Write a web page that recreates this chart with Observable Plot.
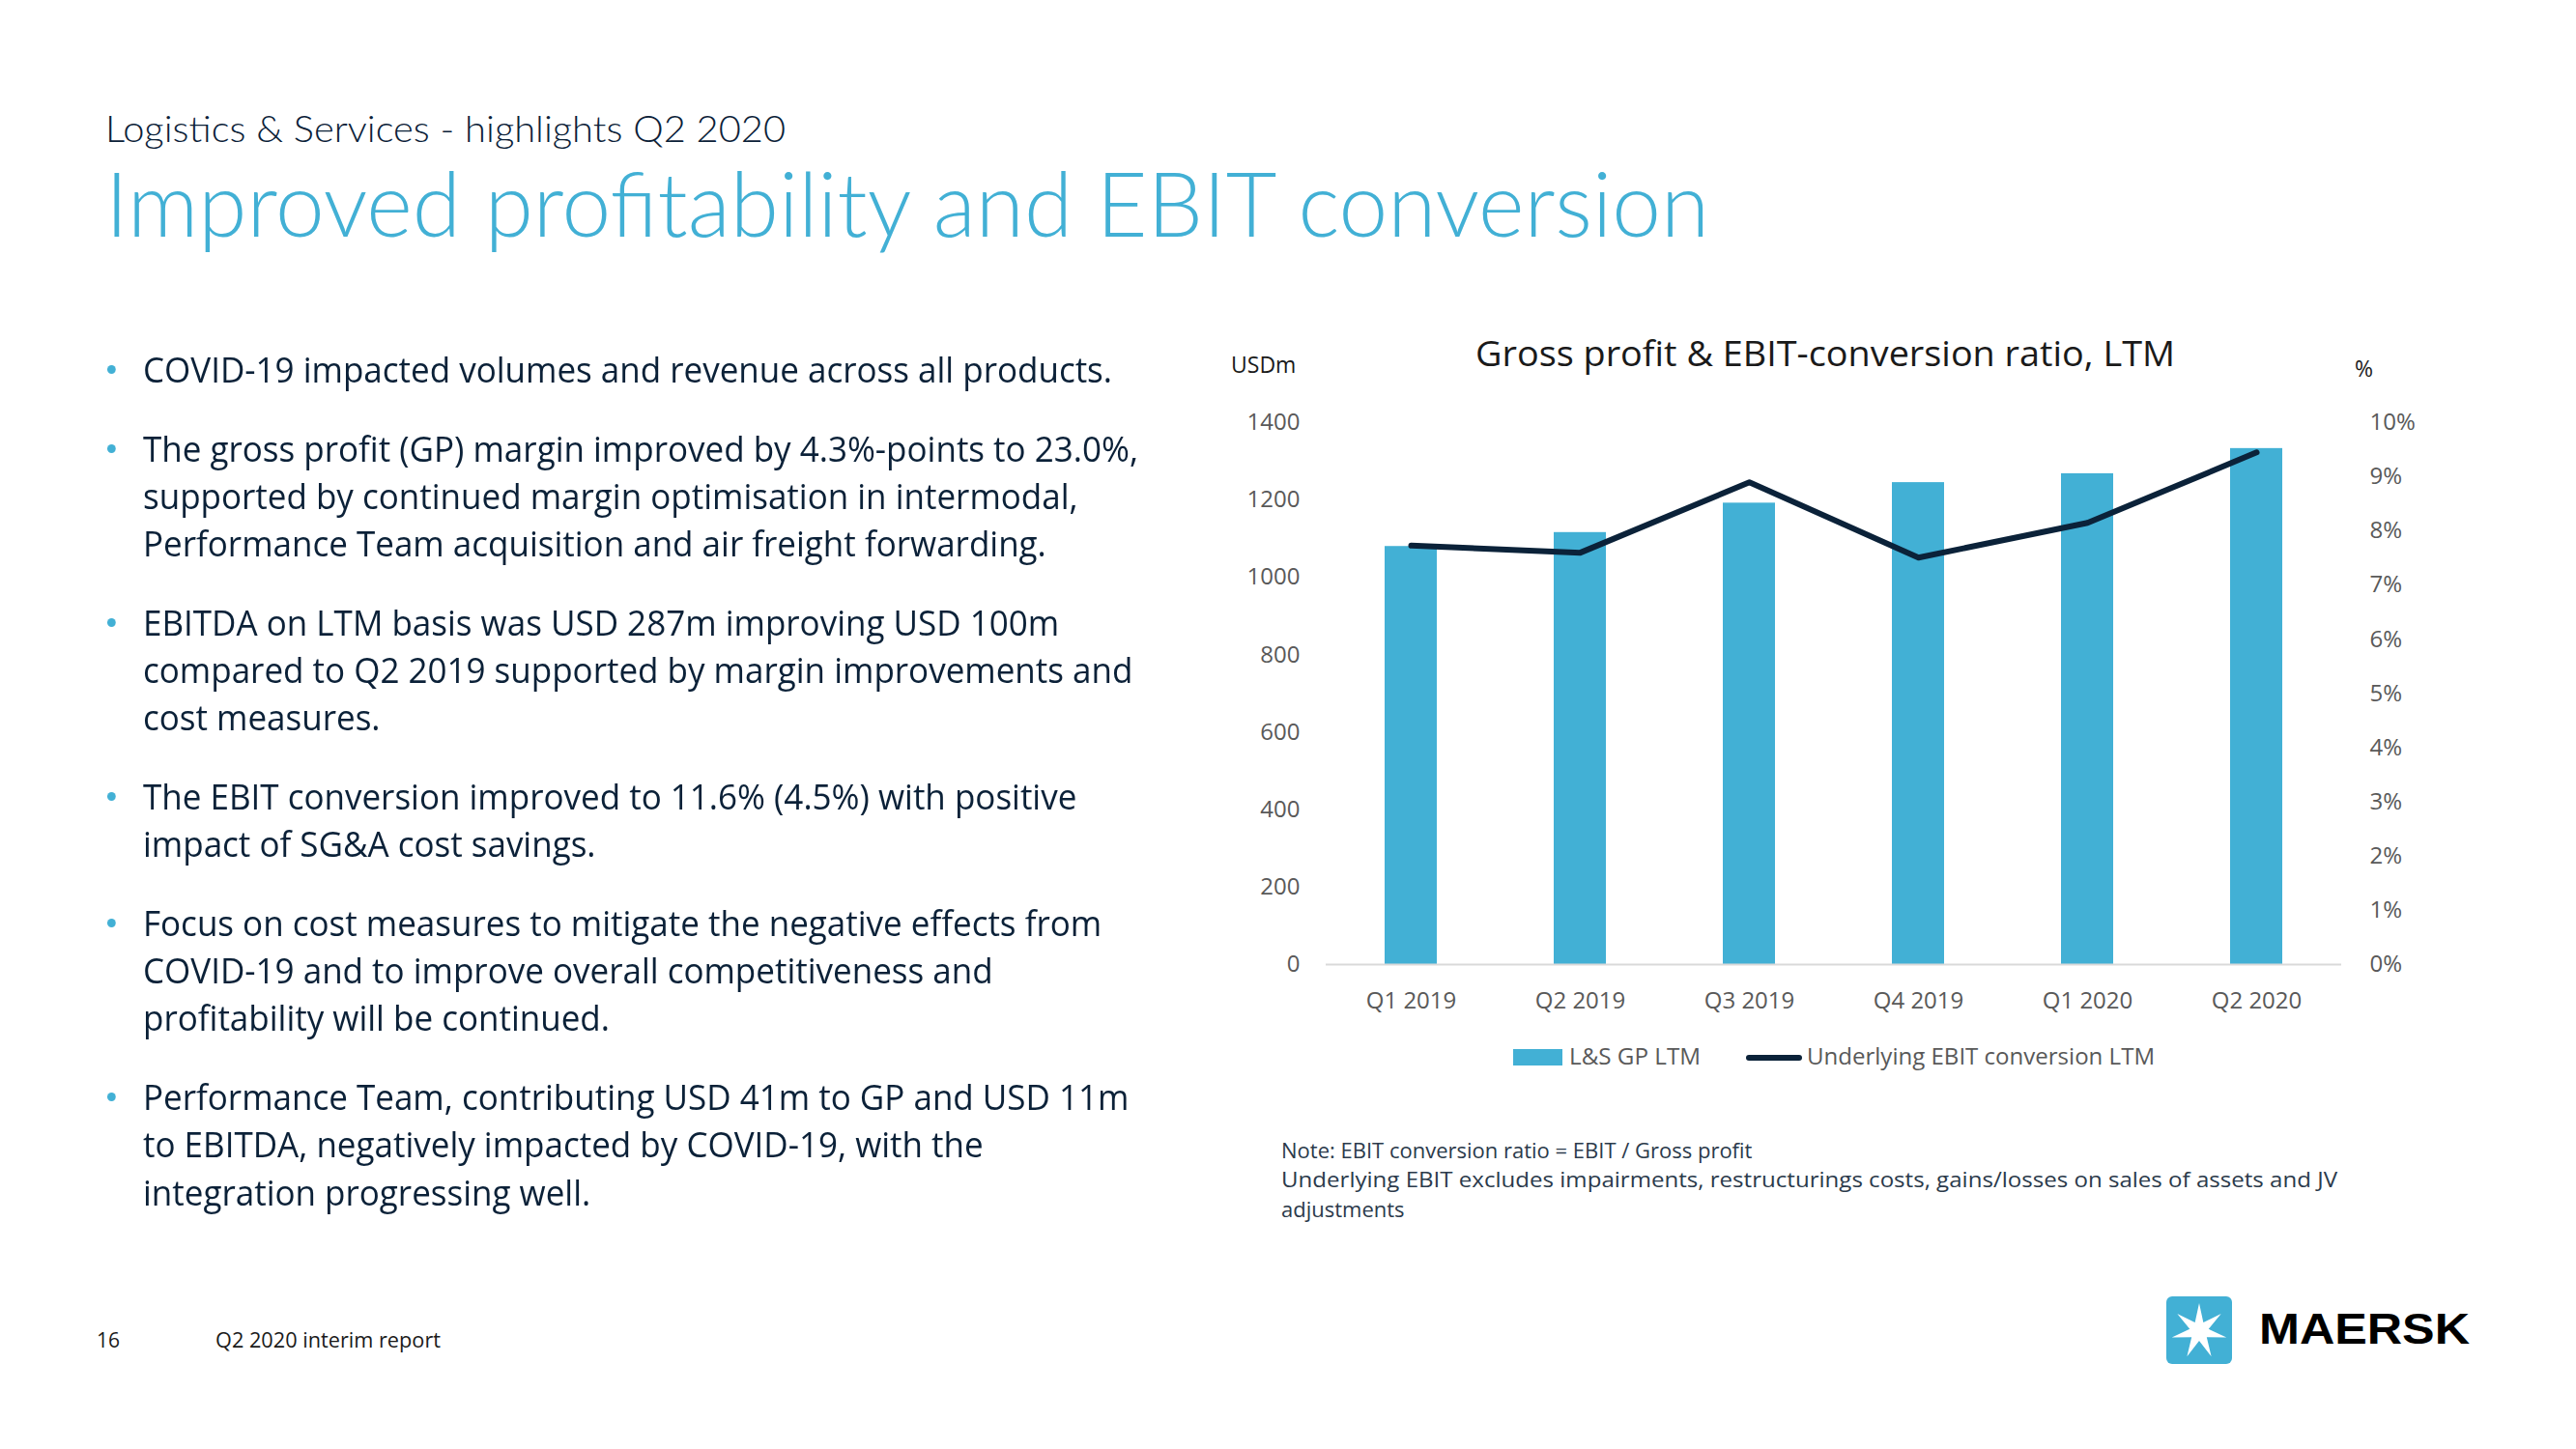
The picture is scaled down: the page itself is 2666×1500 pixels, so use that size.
<!DOCTYPE html>
<html><head><meta charset="utf-8">
<script src="https://cdn.jsdelivr.net/npm/d3@7"></script>
<script src="https://cdn.jsdelivr.net/npm/@observablehq/plot@0.6"></script>
<style>
html,body{margin:0;padding:0;background:#fff;}
body{width:2666px;height:1500px;position:relative;overflow:hidden;font-family:"Open Sans","Noto Sans",sans-serif;}
.t{position:absolute;white-space:nowrap;line-height:1;transform-origin:0 50%;}
#chart{position:absolute;left:1240px;top:300px;}
.bullets{position:absolute;left:148px;top:358px;color:#0b2138;font-size:36px;line-height:49.3px;transform-origin:0 0;}
.bullets .b{position:relative;margin-bottom:32.3px;white-space:nowrap;}
.bullets .b::before{content:"";position:absolute;left:-38px;top:20px;width:9px;height:9px;border-radius:50%;background:#42b0d5;}
</style></head><body>
<div id="chart"></div>
<script>
// ---- data ----
const quarters = ["Q1 2019","Q2 2019","Q3 2019","Q4 2019","Q1 2020","Q2 2020"];
const grossProfit = [1080,1116,1192,1245,1268,1333];          // USDm, L&S GP LTM
const ebitConversion = [7.73,7.60,8.90,7.51,8.15,9.45];        // %, underlying EBIT conversion LTM
const leftTicks = [0,200,400,600,800,1000,1200,1400];
const rightTicks = [0,1,2,3,4,5,6,7,8,9,10];
const pctToUsd = 140; // right axis 10% aligns with left axis 1400
const seriesNames = ["L&S GP LTM","Underlying EBIT conversion LTM"];
const bullets = [
  ["COVID-19 impacted volumes and revenue across all products."],
  ["The gross profit (GP) margin improved by 4.3%-points to 23.0%,","supported by continued margin optimisation in intermodal,","Performance Team acquisition and air freight forwarding."],
  ["EBITDA on LTM basis was USD 287m improving USD 100m","compared to Q2 2019 supported by margin improvements and","cost measures."],
  ["The EBIT conversion improved to 11.6% (4.5%) with positive","impact of SG&A cost savings."],
  ["Focus on cost measures to mitigate the negative effects from","COVID-19 and to improve overall competitiveness and","profitability will be continued."],
  ["Performance Team, contributing USD 41m to GP and USD 11m","to EBITDA, negatively impacted by COVID-19, with the","integration progressing well."]
];
const noteLines = ["Note: EBIT conversion ratio = EBIT / Gross profit","Underlying EBIT excludes impairments, restructurings costs, gains/losses on sales of assets and JV","adjustments"];

const blue = "#42b0d5", navy = "#0b2239";
const data = quarters.map((q,i)=>({quarter:q, gp:grossProfit[i], ebit:ebitConversion[i]}));

// ---- chart ----
const chart = Plot.plot({
  width:1320, height:800,
  marginLeft:132, marginRight:137, marginTop:137, marginBottom:102,
  style:{fontFamily:"'Open Sans', sans-serif", fontSize:"24px", color:"#595959", background:"transparent"},
  x:{domain:quarters, paddingInner:0.69, paddingOuter:0.345, label:null},
  y:{domain:[0,1400], label:null},
  marks:[
    Plot.barY(data,{x:"quarter", y:"gp", fill:blue}),
    Plot.ruleY([0],{stroke:"#d9d9d9", strokeWidth:2}),
    Plot.line(data,{x:"quarter", y:d=>d.ebit*pctToUsd, stroke:navy, strokeWidth:6}),
    Plot.axisY(leftTicks,{anchor:"left", tickSize:0, tickPadding:27, tickFormat:d=>String(d), label:null}),
    Plot.axisY(rightTicks.map(t=>t*pctToUsd),{anchor:"right", tickSize:0, tickPadding:29, tickFormat:d=>(d/pctToUsd)+"%", label:null}),
    Plot.axisX({tickSize:0, tickPadding:28, label:null})
  ]
});
document.getElementById("chart").append(chart);

// ---- text helpers ----
const root = document.body;
function place(text, x, cy, fs, opts={}){
  const el = document.createElement("div");
  el.className = "t";
  el.textContent = text;
  el.style.fontSize = fs+"px";
  el.style.color = opts.color || "#1a1a1a";
  if (opts.weight) el.style.fontWeight = opts.weight;
  if (opts.family) el.style.fontFamily = opts.family;
  if (opts.ls) el.style.letterSpacing = opts.ls;
  el.style.top = (cy - 0.53*fs)+"px";
  root.append(el);
  const w = el.getBoundingClientRect().width;
  let sx = 1;
  if (opts.fit) sx = opts.fit / w;
  const realW = opts.fit || w;
  let left = x;
  if (opts.anchor === "middle") left = x - realW/2;
  el.style.left = left+"px";
  if (sx !== 1) el.style.transform = `scaleX(${sx})`;
  return el;
}

const headFont = "Lato, 'Open Sans', sans-serif";
place("Logistics & Services - highlights Q2 2020", 109, 134, 37, {color:"#0b2138", weight:300, fit:704, family:headFont});
place("Improved profitability and EBIT conversion", 109, 213, 92, {color:blue, weight:300, fit:1660, family:headFont});

// bullets
const bdiv = document.createElement("div");
bdiv.className = "bullets";
bullets.forEach(lines=>{
  const b = document.createElement("div");
  b.className = "b";
  lines.forEach((ln,i)=>{ if(i) b.append(document.createElement("br")); b.append(document.createTextNode(ln)); });
  bdiv.append(b);
});
root.append(bdiv);
{
  const probe = document.createElement("span");
  probe.style.cssText = "position:absolute;visibility:hidden;white-space:nowrap;font-size:36px;";
  probe.textContent = bullets[0][0];
  root.append(probe);
  const sx = 1003 / probe.getBoundingClientRect().width;
  probe.remove();
  bdiv.style.transform = `scaleX(${sx})`;
}

// chart title and axis units
place("Gross profit & EBIT-conversion ratio, LTM", 1889, 366, 37, {anchor:"middle", color:"#1a1a1a", fit:724});
place("USDm", 1274, 378, 23, {color:"#1a1a1a"});
place("%", 2437, 382, 23, {color:"#1a1a1a"});

// legend
{
  const sw = document.createElement("div");
  sw.style.cssText = `position:absolute;left:1566px;top:1086px;width:51px;height:17px;background:${blue};`;
  root.append(sw);
  place(seriesNames[0], 1624, 1094, 24, {color:"#595959", fit:136});
  const ln = document.createElement("div");
  ln.style.cssText = `position:absolute;left:1807px;top:1092px;width:58px;height:6px;border-radius:3px;background:${navy};`;
  root.append(ln);
  place(seriesNames[1], 1870, 1094, 24, {color:"#595959", fit:360});
}

// note
place(noteLines[0], 1326, 1191, 22, {color:"#2b3a4b"});
place(noteLines[1], 1326, 1221, 22, {color:"#2b3a4b", fit:1093});
place(noteLines[2], 1326, 1252, 22, {color:"#2b3a4b"});

// footer
place("16", 100, 1388, 21, {color:"#1a1a1a"});
place("Q2 2020 interim report", 223, 1388, 21, {color:"#1a1a1a", fit:233});

// logo
{
  const ns = "http://www.w3.org/2000/svg";
  const svg = document.createElementNS(ns,"svg");
  svg.setAttribute("width",68); svg.setAttribute("height",70);
  svg.style.cssText = "position:absolute;left:2242px;top:1342px;";
  const r = document.createElementNS(ns,"rect");
  r.setAttribute("width",68); r.setAttribute("height",70); r.setAttribute("rx",6); r.setAttribute("fill",blue);
  svg.append(r);
  const pts = [];
  for (let i=0;i<14;i++){
    const a = -Math.PI/2 + i*Math.PI/7;
    const rad = i%2===0 ? 29 : 10;
    pts.push([34+rad*Math.cos(a), 36+rad*Math.sin(a)].join(","));
  }
  const p = document.createElementNS(ns,"polygon");
  p.setAttribute("points", pts.join(" ")); p.setAttribute("fill","#fff");
  svg.append(p);
  root.append(svg);
  place("MAERSK", 2338, 1377, 45, {color:"#000", weight:900, family:"'Liberation Sans', Arial, sans-serif", fit:218});
}
</script>
</body></html>
